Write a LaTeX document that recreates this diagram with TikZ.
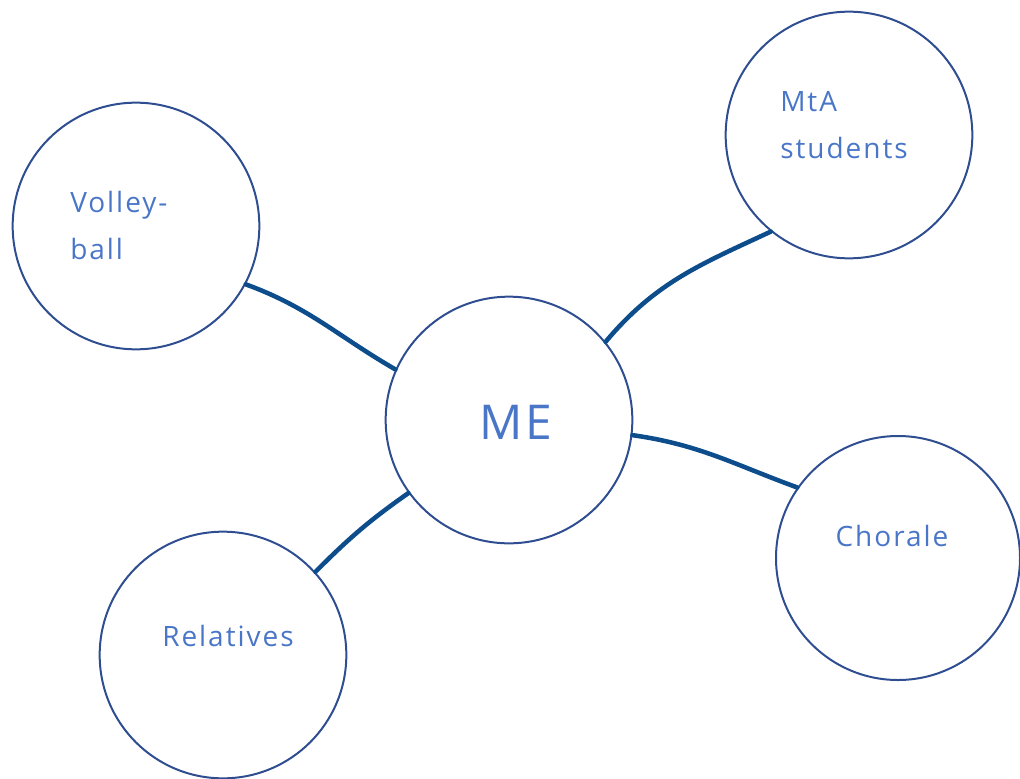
\documentclass[tikz,border=0pt]{standalone}
\usepackage{fontspec}
\setmainfont{Open Sans}[LetterSpace=7]
\definecolor{ringblue}{HTML}{2F4E91}
\definecolor{linkblue}{HTML}{0D4D8C}
\definecolor{textblue}{HTML}{4A76C8}
\tikzset{
  topic/.style={draw=ringblue, line width=1.5pt, circle, minimum size=#1},
  label/.style={text=textblue, font=\fontsize{21}{35}\selectfont, align=left, inner sep=0pt},
  link/.style={draw=linkblue, line width=3.4pt, line cap=round}
}
\begin{document}
\begin{tikzpicture}[x=0.75pt, y=-0.75pt]
  \useasboundingbox (0,0) rectangle (1020,778);
  % Nodes
  \node[topic=185pt] (volley) at (136,226) {};
  \node[topic=185pt] (mta) at (849,135) {};
  \node[topic=185pt] (me) at (509,420) {};
  \node[topic=183pt] (chorale) at (898,558) {};
  \node[topic=185pt] (relatives) at (223,655) {};

  % Labels
  \node[label, anchor=north west] (volleytxt) at (70,191) {Volley-\\ball};
  \node[label, anchor=north west] (mtatxt) at (780,91) {MtA\\students};
  \node[label, font=\fontsize{36}{40}\selectfont] (metxt) at (516,422) {ME};
  \node[label] (choraletxt) at (892,536) {Chorale};
  \node[label] (relativestxt) at (228,636) {Relatives};

  % Connections
  \draw[link] (volley.-28) to[out=-20,in=150] (me.156);
  \draw[link] (me.39) to[out=50,in=-155] (mta.231);
  \draw[link] (me.-7) to[out=-8,in=160] (chorale.145);
  \draw[link] (me.216) to[out=215,in=45] (relatives.42);
\end{tikzpicture}
\end{document}
